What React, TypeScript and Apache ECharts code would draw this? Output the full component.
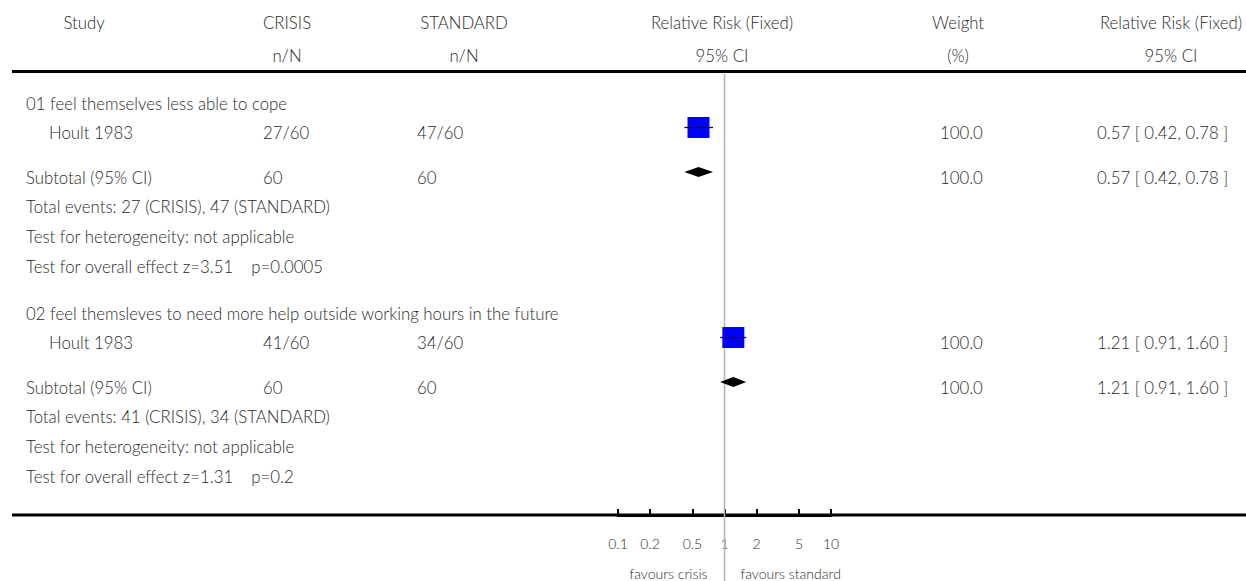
import React, { useEffect, useRef } from "react";
import * as echarts from "echarts";

// ---- data ----
const headerRow1 = ["Study", "CRISIS", "STANDARD", "Relative Risk (Fixed)", "Weight", "Relative Risk (Fixed)"];
const headerRow2 = ["", "n/N", "n/N", "95% CI", "(%)", "95% CI"];
const groupTitles = [
  "01 feel themselves less able to cope",
  "02 feel themsleves to need more help outside working hours in the future",
];
const studyNames = ["Hoult 1983", "Hoult 1983"];
const crisisEvents = [27, 41];
const crisisTotals = [60, 60];
const standardEvents = [47, 34];
const standardTotals = [60, 60];
const studyRR = [0.57, 1.21];
const studyLow = [0.42, 0.91];
const studyHigh = [0.78, 1.6];
const studyWeights = [100.0, 100.0];
const subtotalRR = [0.57, 1.21];
const subtotalLow = [0.42, 0.91];
const subtotalHigh = [0.78, 1.6];
const subtotalWeights = [100.0, 100.0];
const heterogeneity = ["not applicable", "not applicable"];
const zValues = ["3.51", "1.31"];
const pValues = ["0.0005", "0.2"];
const tickValues = [0.1, 0.2, 0.5, 1, 2, 5, 10];
const tickLabels = ["0.1", "0.2", "0.5", "1", "2", "5", "10"];
const favourLabels = ["favours crisis", "favours standard"];

// ---- layout ----
const W = 1246;
const H = 581;
const GRID_LEFT = 618;
const GRID_WIDTH = 213;
const AXIS_Y = 515;
const HEADER_LINE_Y = 71.5;
const headerY = [22.5, 55.5];
const headerX = [84, 287, 464, 722, 958, 1171];
const groupOffsets = [0, 210];
const ROW_TITLE = 103;
const ROW_STUDY = 127.5;
const ROW_SUB = 172;
const ROW_TOTAL = 206;
const ROW_HET = 236.5;
const ROW_OVERALL = 266;
const TEXT_SHIFT = 5;
const X_TITLE = 26;
const X_STUDY = 49;
const X_CRISIS = 263;
const X_STANDARD = 417;
const X_WEIGHT = 940;
const X_CI = 1097;

const FONT = "Lato, 'Open Sans', sans-serif";
const TEXT_COLOR = "#2a2a2a";
const FONT_SIZE = 16.8;
const AXIS_FONT_SIZE = 14;

const fmt2 = (v: number) => v.toFixed(2);
const ciText = (r: number, l: number, h: number) => `${fmt2(r)} [ ${fmt2(l)}, ${fmt2(h)} ]`;

function txt(text: string, x: number, y: number, align: string = "left", size = FONT_SIZE) {
  return {
    type: "text",
    silent: true,
    style: {
      text,
      x,
      y,
      align,
      verticalAlign: "middle",
      fill: TEXT_COLOR,
      fontSize: size,
      fontFamily: FONT,
      fontWeight: 300,
    },
  };
}

export default function App() {
  const ref = useRef<HTMLDivElement>(null);

  useEffect(() => {
    document.body.style.margin = "0";
    if (!ref.current) return;
    const chart = echarts.init(ref.current, undefined, { renderer: "svg" });

    const refX = GRID_LEFT + GRID_WIDTH * (0 - -1) / 2;

    const graphics: any[] = [];
    headerRow1.forEach((t, i) => graphics.push(txt(t, headerX[i], headerY[0], "center")));
    headerRow2.forEach((t, i) => {
      if (t) graphics.push(txt(t, headerX[i], headerY[1], "center"));
    });
    graphics.push({
      type: "line",
      silent: true,
      shape: { x1: 12, y1: HEADER_LINE_Y, x2: W, y2: HEADER_LINE_Y },
      style: { stroke: "#000", lineWidth: 3 },
    });
    graphics.push({
      type: "line",
      silent: true,
      shape: { x1: 12, y1: AXIS_Y, x2: W, y2: AXIS_Y },
      style: { stroke: "#000", lineWidth: 3 },
    });

    groupTitles.forEach((title, g) => {
      const o = groupOffsets[g];
      graphics.push(txt(title, X_TITLE, ROW_TITLE + o));
      const ys = ROW_STUDY + o + TEXT_SHIFT;
      graphics.push(txt(studyNames[g], X_STUDY, ys));
      graphics.push(txt(`${crisisEvents[g]}/${crisisTotals[g]}`, X_CRISIS, ys));
      graphics.push(txt(`${standardEvents[g]}/${standardTotals[g]}`, X_STANDARD, ys));
      graphics.push(txt(studyWeights[g].toFixed(1), X_WEIGHT, ys));
      graphics.push(txt(ciText(studyRR[g], studyLow[g], studyHigh[g]), X_CI, ys));
      const yb = ROW_SUB + o + TEXT_SHIFT;
      graphics.push(txt("Subtotal (95% CI)", X_TITLE, yb));
      graphics.push(txt(`${crisisTotals[g]}`, X_CRISIS, yb));
      graphics.push(txt(`${standardTotals[g]}`, X_STANDARD, yb));
      graphics.push(txt(subtotalWeights[g].toFixed(1), X_WEIGHT, yb));
      graphics.push(txt(ciText(subtotalRR[g], subtotalLow[g], subtotalHigh[g]), X_CI, yb));
      graphics.push(
        txt(`Total events: ${crisisEvents[g]} (CRISIS), ${standardEvents[g]} (STANDARD)`, X_TITLE, ROW_TOTAL + o)
      );
      graphics.push(txt(`Test for heterogeneity: ${heterogeneity[g]}`, X_TITLE, ROW_HET + o));
      graphics.push(txt(`Test for overall effect z=${zValues[g]}    p=${pValues[g]}`, X_TITLE, ROW_OVERALL + o));
    });

    graphics.push(txt(favourLabels[0], refX - 17, 573, "right", AXIS_FONT_SIZE));
    graphics.push(txt(favourLabels[1], refX + 16, 573, "left", AXIS_FONT_SIZE));

    const studyData = studyRR.map((r, g) => [
      Math.log10(r),
      ROW_STUDY + groupOffsets[g],
      Math.log10(studyLow[g]),
      Math.log10(studyHigh[g]),
      studyWeights[g],
    ]);
    const diamondData = subtotalRR.map((r, g) => [
      Math.log10(r),
      ROW_SUB + groupOffsets[g],
      Math.log10(subtotalLow[g]),
      Math.log10(subtotalHigh[g]),
    ]);

    const tickLog = tickValues.map((v) => Math.log10(v));

    chart.setOption({
      animation: false,
      grid: { left: GRID_LEFT, width: GRID_WIDTH, top: 0, height: AXIS_Y },
      xAxis: {
        type: "value",
        min: -1,
        max: 1,
        position: "bottom",
        axisLine: { show: true, onZero: false, lineStyle: { color: "#000", width: 3 } },
        axisTick: {
          show: true,
          inside: true,
          length: 6,
          lineStyle: { color: "#000", width: 2 },
          customValues: tickLog,
        },
        axisLabel: {
          customValues: tickLog,
          margin: 21,
          color: TEXT_COLOR,
          fontSize: AXIS_FONT_SIZE,
          fontFamily: FONT,
          fontWeight: 300,
          formatter: (v: number) => {
            const i = tickLog.findIndex((t) => Math.abs(t - v) < 1e-6);
            return i >= 0 ? tickLabels[i] : "";
          },
        },
        splitLine: { show: false },
      },
      yAxis: { type: "value", min: 0, max: AXIS_Y, inverse: true, show: false },
      series: [
        {
          type: "custom",
          silent: true,
          clip: false,
          data: [[0, HEADER_LINE_Y + 2, H]],
          renderItem: (params: any, api: any) => {
            const p1 = api.coord([api.value(0), api.value(1)]);
            const p2 = api.coord([api.value(0), api.value(2)]);
            return {
              type: "line",
              shape: { x1: p1[0], y1: p1[1], x2: p2[0], y2: p2[1] },
              style: { stroke: "#b4b4b4", lineWidth: 1.5 },
            };
          },
          z: 1,
        },
        {
          type: "custom",
          silent: true,
          clip: false,
          data: studyData,
          renderItem: (params: any, api: any) => {
            const c = api.coord([api.value(0), api.value(1)]);
            const lo = api.coord([api.value(2), api.value(1)]);
            const hi = api.coord([api.value(3), api.value(1)]);
            const s = Math.sqrt(api.value(4) / 100);
            const bw = 22 * s;
            const bh = 21 * s;
            return {
              type: "group",
              children: [
                {
                  type: "rect",
                  shape: { x: c[0] - bw / 2, y: c[1] - bh / 2, width: bw, height: bh },
                  style: { fill: "#0000ff" },
                },
                {
                  type: "line",
                  shape: { x1: lo[0], y1: c[1], x2: hi[0], y2: c[1] },
                  style: { stroke: "#111", lineWidth: 1.3 },
                },
                {
                  type: "line",
                  shape: { x1: c[0], y1: c[1] - 2.5, x2: c[0], y2: c[1] + 2.5 },
                  style: { stroke: "#111", lineWidth: 1 },
                },
              ],
            };
          },
          z: 3,
        },
        {
          type: "custom",
          silent: true,
          clip: false,
          data: diamondData,
          renderItem: (params: any, api: any) => {
            const c = api.coord([api.value(0), api.value(1)]);
            const lo = api.coord([api.value(2), api.value(1)]);
            const hi = api.coord([api.value(3), api.value(1)]);
            const h = 5;
            return {
              type: "polygon",
              shape: {
                points: [
                  [lo[0], c[1]],
                  [c[0], c[1] - h],
                  [hi[0], c[1]],
                  [c[0], c[1] + h],
                ],
              },
              style: { fill: "#000" },
            };
          },
          z: 3,
        },
      ],
      graphic: graphics,
    });

    return () => chart.dispose();
  }, []);

  return <div ref={ref} style={{ width: W, height: H }} />;
}
